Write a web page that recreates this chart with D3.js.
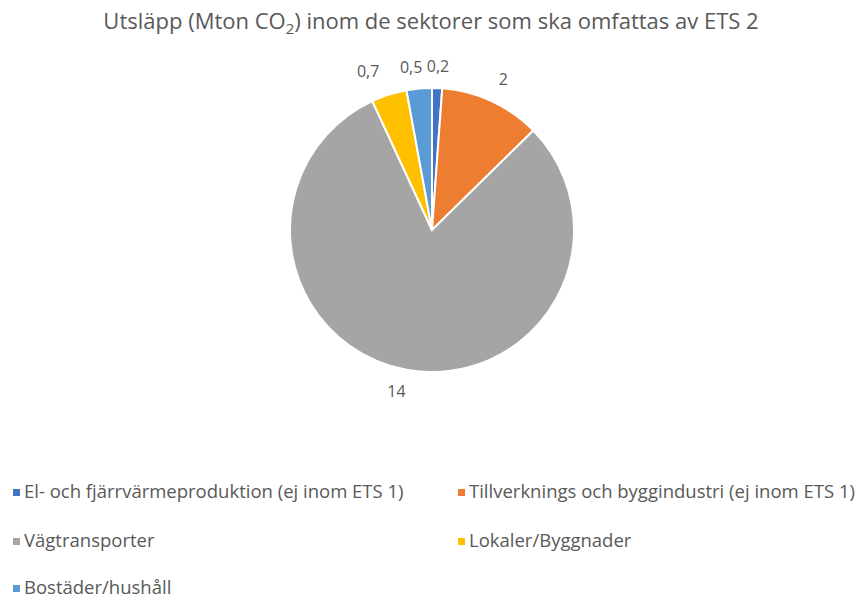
<!DOCTYPE html>
<html>
<head>
<meta charset="utf-8">
<script src="https://cdn.jsdelivr.net/npm/d3@7"></script>
<style>
  body { margin: 0; background: #fff; }
  svg text { font-family: "Open Sans", sans-serif; fill: #595959; }
</style>
</head>
<body>
<div id="chart"></div>
<script>
// Sector data (Mton CO2)
const categories = [
    "El- och fjärrvärmeproduktion (ej inom ETS 1)",
    "Tillverknings och byggindustri (ej inom ETS 1)",
    "Vägtransporter",
    "Lokaler/Byggnader",
    "Bostäder/hushåll"
];
const values = [0.2, 2, 14, 0.7, 0.5];
const valueLabels = ["0,2", "2", "14", "0,7", "0,5"];
const colors = ["#4472C4", "#ED7D31", "#A5A5A5", "#FFC000", "#5B9BD5"];

const width = 863, height = 600;
const cx = 432, cy = 230, radius = 142;

const svg = d3.select("#chart").append("svg")
    .attr("width", width)
    .attr("height", height);

// Title
const title = svg.append("text")
    .attr("x", 431)
    .attr("y", 29)
    .attr("text-anchor", "middle")
    .style("font-size", "22px");
title.append("tspan").text("Utsläpp (Mton CO");
title.append("tspan").attr("dy", 5).style("font-size", "15px").text("2");
title.append("tspan").attr("dy", -5).text(") inom de sektorer som ska omfattas av ETS 2");

const data = categories.map((c, i) => ({ name: c, value: values[i], label: valueLabels[i], color: colors[i] }));

const pie = d3.pie().sort(null).value(d => d.value);
const arcs = pie(data);

const arc = d3.arc().innerRadius(0).outerRadius(radius);
const labelArc = d3.arc().innerRadius(165).outerRadius(165);

const g = svg.append("g").attr("transform", `translate(${cx},${cy})`);

g.selectAll("path")
    .data(arcs)
    .join("path")
    .attr("d", arc)
    .attr("fill", d => d.data.color)
    .attr("stroke", "#fff")
    .attr("stroke-width", 2);

// small nudges like Excel does to avoid overlapping labels
const labelNudge = [[0, 3], [2, 0], [-6, 0], [-14, 0], [-6, 3]];

g.selectAll("text.lbl")
    .data(arcs)
    .join("text")
    .attr("class", "lbl")
    .attr("x", (d, i) => labelArc.centroid(d)[0] + labelNudge[i][0])
    .attr("y", (d, i) => labelArc.centroid(d)[1] + labelNudge[i][1])
    .attr("text-anchor", "middle")
    .attr("dominant-baseline", "middle")
    .style("font-size", "16px")
    .text(d => d.data.label);

// Legend
const legendPos = [[13, 493], [458, 493], [13, 542], [458, 542], [13, 589]];
const legend = svg.append("g")
    .selectAll("g")
    .data(data)
    .join("g")
    .attr("transform", (d, i) => `translate(${legendPos[i][0]},${legendPos[i][1]})`);

legend.append("rect")
    .attr("x", 0)
    .attr("y", -4)
    .attr("width", 7)
    .attr("height", 7)
    .attr("fill", d => d.color);

legend.append("text")
    .attr("x", 11)
    .attr("y", 0)
    .attr("dominant-baseline", "middle")
    .style("font-size", "18.5px")
    .text(d => d.name);
</script>
</body>
</html>
